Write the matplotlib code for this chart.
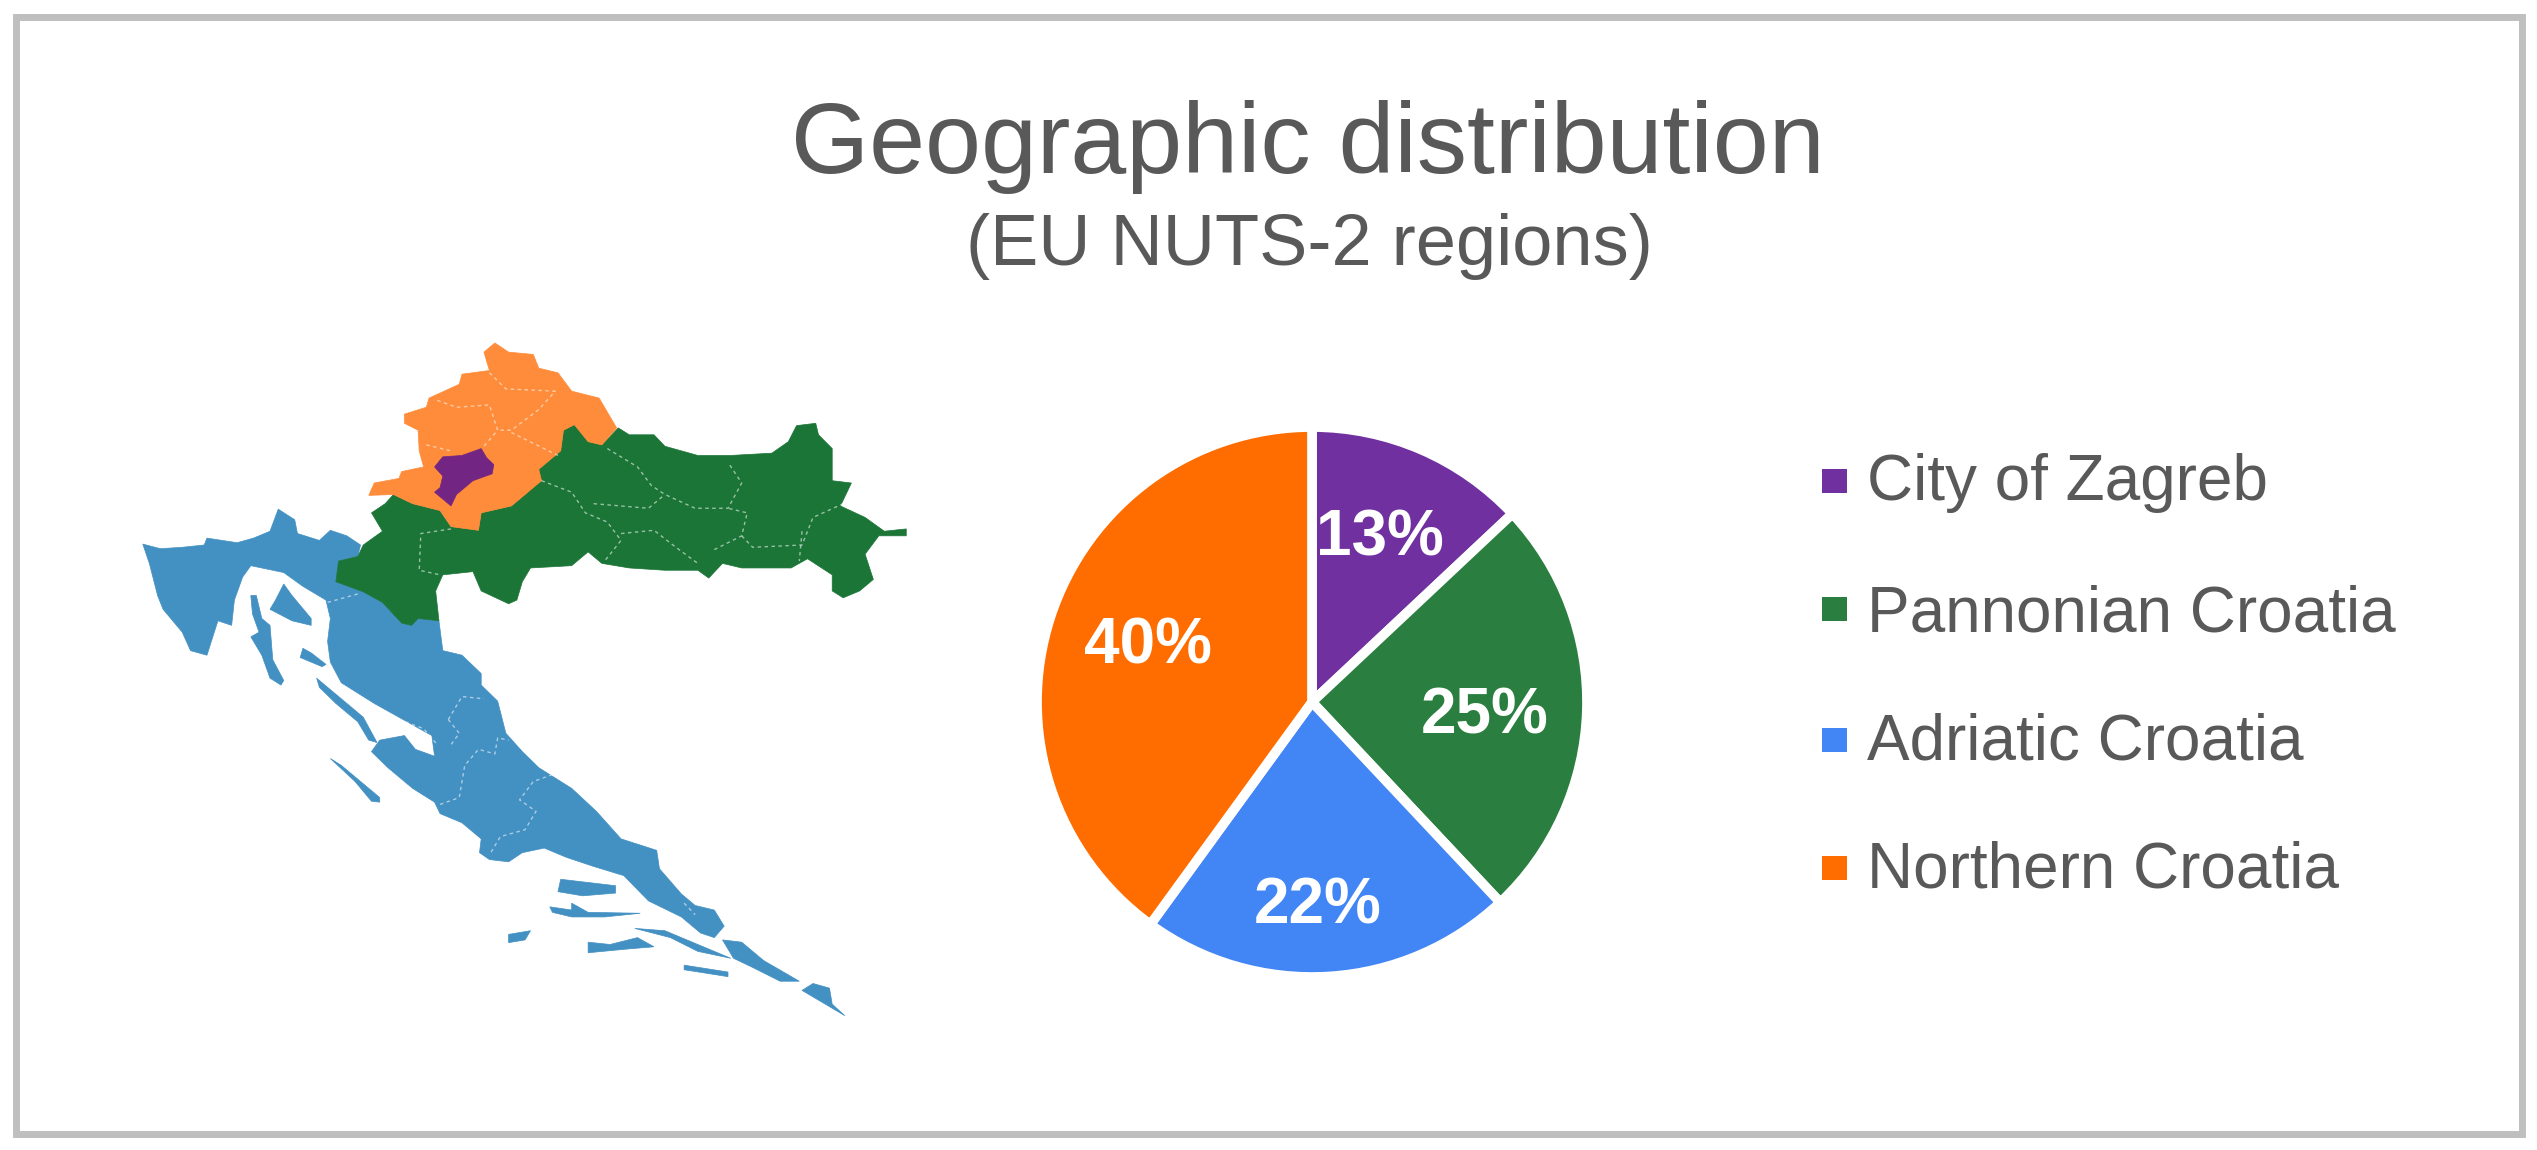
import matplotlib
matplotlib.use("Agg")
import matplotlib.pyplot as plt
from matplotlib.patches import Rectangle

plt.rcParams['font.family'] = ['Liberation Sans', 'DejaVu Sans']

W, H = 2537, 1150
TXT = "#595959"

# pie data
regions = ["City of Zagreb", "Pannonian Croatia", "Adriatic Croatia", "Northern Croatia"]
shares = [13, 25, 22, 40]
pie_colors = ["#7030A0", "#2A7F40", "#4285F4", "#FF6D01"]

# map outlines (map units, y down)
northern = [(720,50),(700,70),(710,110),(660,118),(655,140),(600,170),(595,190),(555,205),(555,225),(580,240),
            (582,285),(590,320),(550,330),(545,345),(500,355),(490,382),(535,380),(570,400),(620,415),(640,450),
            (690,458),(695,420),(750,405),(780,375),(805,350),(800,325),(840,285),(845,240),(865,228),(890,265),
            (915,272),(942,235),(910,170),(860,155),(835,115),(800,105),(790,75),(745,70)]
zagreb = [(695,280),(660,295),(625,298),(610,320),(625,340),(620,365),(610,375),(640,405),(650,380),(680,350),
          (715,335),(718,315),(705,300)]
pannonian = [(865,228),(845,240),(840,285),(800,325),(800,345),(780,375),(750,405),(695,420),(690,458),(640,450),
             (620,415),(570,400),(535,380),(520,400),(495,420),(515,460),(480,490),(470,515),(435,525),(430,570),
             (480,592),(515,615),(550,660),(568,665),(580,650),(618,655),(612,590),(625,555),(680,548),(695,590),
             (745,618),(760,610),(770,570),(785,540),(860,535),(890,505),(915,530),(965,540),(1030,545),(1090,545),
             (1110,562),(1135,530),(1170,540),(1260,540),(1290,520),(1335,555),(1335,590),(1355,605),(1385,590),
             (1410,565),(1395,510),(1420,470),(1470,470),(1470,455),(1430,460),(1395,430),(1350,405),(1370,355),
             (1335,350),(1335,280),(1310,250),(1305,225),(1270,230),(1255,265),(1225,290),(1150,295),(1090,295),
             (1030,275),(1010,250),(965,250),(945,235),(915,272),(890,265)]
adriatic = [(78,488),(110,498),(150,495),(190,490),(195,475),(250,485),(280,475),(310,460),(325,412),(355,435),
            (360,465),(400,480),(420,458),(450,470),(475,490),(470,515),(435,525),(430,570),(480,592),(515,615),
            (550,660),(568,665),(580,650),(618,655),(625,720),(660,730),(695,770),(695,795),(725,830),(740,900),
            (770,940),(800,975),(860,1020),(905,1070),(950,1130),(1015,1155),(1020,1195),(1060,1250),(1085,1275),
            (1120,1285),(1138,1320),(1120,1345),(1095,1335),(1060,1300),(1000,1265),(955,1210),(900,1190),(850,1170),
            (810,1150),(770,1160),(745,1180),(710,1175),(692,1160),(695,1130),(660,1095),(620,1075),(610,1050),
            (570,1020),(525,975),(495,940),(510,915),(555,905),(575,935),(610,950),(605,905),(560,875),(500,835),
            (440,790),(420,745),(415,700),(420,650),(412,610),(370,580),(335,550),(275,535),(260,560),(245,610),
            (240,665),(215,655),(195,730),(165,720),(150,680),(115,630),(105,600),(90,530)]
islands = [
    [(275,600),(285,600),(295,650),(310,665),(315,740),(335,785),(330,795),(310,780),(295,730),(275,690),(290,680),(278,640)],
    [(335,575),(350,600),(385,650),(385,665),(350,655),(310,630),(320,610)],
    [(370,715),(385,725),(412,750),(405,755),(365,735)],
    [(395,780),(430,815),(480,865),(505,920),(490,915),(470,875),(430,835),(400,800)],
    [(420,955),(440,970),(510,1040),(510,1050),(495,1048),(465,1005)],
    [(840,1218),(940,1232),(940,1248),(880,1254),(835,1245)],
    [(820,1278),(860,1285),(860,1270),(890,1290),(985,1292),(920,1300),(860,1300),(825,1290)],
    [(745,1338),(785,1330),(775,1350),(745,1356)],
    [(890,1355),(930,1360),(980,1345),(1010,1365),(960,1370),(890,1378)],
    [(975,1325),(1030,1330),(1090,1360),(1150,1390),(1090,1375),(1040,1345)],
    [(1065,1405),(1145,1420),(1145,1430),(1065,1415)],
    [(1135,1350),(1170,1355),(1210,1395),(1275,1440),(1240,1440),(1190,1410),(1155,1390)],
    [(1300,1445),(1330,1455),(1335,1490),(1358,1515),(1280,1460)],
]
# county borders inside the regions
counties = [
    [(615,175),(650,190),(710,185),(725,240),(700,275)],
    [(710,115),(740,150),(830,155),(800,195),(750,240),(725,240)],
    [(750,245),(835,295)],
    [(595,272),(640,285)],
    [(925,280),(980,320),(1005,360),(1030,380),(1085,410),(1145,410),(1170,355),(1145,310)],
    [(805,350),(860,375),(885,420),(925,440),(950,480),(920,525)],
    [(900,400),(1000,410),(1030,380)],
    [(950,465),(1010,458),(1050,495),(1090,530)],
    [(1120,500),(1170,470),(1180,420),(1145,410)],
    [(1170,470),(1190,495),(1280,490),(1300,430),(1355,400)],
    [(1280,460),(1275,525)],
    [(640,455),(585,465),(582,545),(620,555)],
    [(415,615),(475,595)],
    [(635,870),(660,820),(700,825)],
    [(635,870),(655,900),(640,925)],
    [(545,870),(590,890),(615,925)],
    [(620,1055),(655,1040),(665,970),(690,935),(720,945),(725,910),(745,915)],
    [(825,990),(790,1005),(765,1045),(795,1070),(775,1110),(730,1125),(710,1165)],
    [(1065,1270),(1085,1295)],
]

fig = plt.figure(figsize=(W / 100, H / 100), dpi=100, facecolor="white")

# overlay in pixel coordinates: frame and all text
bg = fig.add_axes([0, 0, 1, 1], zorder=5)
bg.set_xlim(0, W)
bg.set_ylim(H, 0)
bg.axis("off")
bg.add_patch(Rectangle((15.5, 16.5), 2506, 1117.5, fill=False, ec="#BFBFBF", lw=5))

# map
mp = fig.add_axes([100 / W, 1 - 1040 / H, 860 / W, 720 / H])
mp.set_xlim(0, 1568)
mp.set_ylim(1568, 0)
mp.axis("off")
mp.fill(*zip(*adriatic), color="#4390C2", lw=0.5)
for isl in islands:
    mp.fill(*zip(*isl), color="#4390C2", lw=0.5)
mp.fill(*zip(*pannonian), color="#1B7537", lw=0.5)
mp.fill(*zip(*northern), color="#FF8C3A", lw=0.5)
mp.fill(*zip(*zagreb), color="#722582", lw=0.5)
for c in counties:
    mp.plot(*zip(*c), color="white", lw=1, ls=(0, (2.5, 2.5)), alpha=0.55)

# pie, the white edge eats 5 px of the rim
R = 275
cx, cy = 1312, 702
ax = fig.add_axes([(cx - R) / W, 1 - (cy + R) / H, 2 * R / W, 2 * R / H])
ax.pie(shares, colors=pie_colors, startangle=90, counterclock=False, radius=1,
       wedgeprops=dict(edgecolor="white", linewidth=7))
ax.set_xlim(-1, 1)
ax.set_ylim(-1, 1)

# slice labels
label_x = [1380, 1485, 1318, 1148]
label_y = [556, 733, 924, 663]
for s, lx, ly in zip(shares, label_x, label_y):
    bg.text(lx, ly, "%d%%" % s, color="white", fontsize=46, fontweight="bold", ha="center", va="baseline")

# legend
marker_y = [481, 609, 740, 868]
text_y = [500, 631, 759, 888]
for name, col, my, ty in zip(regions, pie_colors, marker_y, text_y):
    bg.add_patch(Rectangle((1822, my - 12), 25, 24, color=col, lw=0))
    bg.text(1867, ty, name, color=TXT, fontsize=46, ha="left", va="baseline")

bg.text(1308, 173, "Geographic distribution", color=TXT, fontsize=72.4, ha="center", va="baseline")
bg.text(1309, 265, "(EU NUTS-2 regions)", color=TXT, fontsize=52, ha="center", va="baseline")

fig.savefig("out.png", dpi=100)
